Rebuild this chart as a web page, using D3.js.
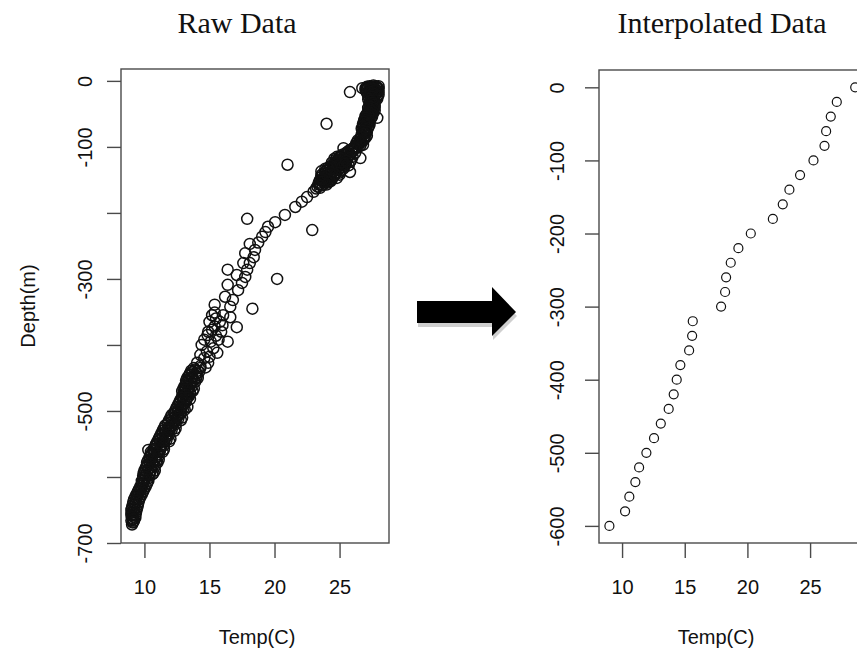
<!DOCTYPE html>
<html>
<head>
<meta charset="utf-8">
<script src="https://cdn.jsdelivr.net/npm/d3@7"></script>
<style>
  body { margin: 0; background: #fff; }
  svg { display: block; }
</style>
</head>
<body>
<div id="chart"></div>
<script>
// Raw profile (temp C, depth m)
var rawTemp = [
  28.0, 27.8, 27.6, 27.4, 27.2, 27.0, 26.75, 25.8, 28.0, 27.8,
  27.5, 27.9, 27.6, 27.3, 28.0, 27.7, 27.4, 27.9, 27.7, 27.4,
  27.6, 27.3, 27.7, 27.5, 27.2, 27.6, 27.3, 27.0, 27.9, 27.4,
  26.9, 27.2, 26.8, 27.3, 27.0, 26.7, 27.1, 26.8, 27.1, 26.9,
  26.6, 26.4, 26.7, 26.4, 26.2, 24.0, 26.3, 26.0, 25.3, 25.7,
  26.2, 25.8, 25.4, 25.0, 26.0, 24.8, 26.6, 25.6, 25.2, 24.8,
  24.4, 25.5, 25.1, 24.7, 24.3, 23.9, 25.3, 24.9, 24.5, 25.8,
  24.1, 23.7, 25.0, 24.6, 24.2, 23.8, 23.5, 24.3, 23.9, 23.5,
  23.3, 21.0, 23.0, 22.5, 22.1, 21.6, 20.8, 20.05, 19.5, 19.3,
  19.05, 18.75, 18.5, 18.4, 18.1, 17.9, 17.75, 17.5, 17.2, 16.8,
  16.6, 16.05, 18.1, 17.75, 17.6, 17.1, 16.4, 16.2, 15.4, 16.4,
  17.9, 22.9, 20.2, 18.3, 15.4, 17.1, 16.4, 15.6, 14.9, 14.85,
  14.4, 14.3, 14.05, 16.6, 16.0, 15.2, 15.7, 15.0, 14.6, 15.3,
  14.6, 15.9, 15.5,
  // deep band
  13.8, 14.3, 13.5, 14.0, 13.3, 13.7, 14.1, 13.2, 13.6, 13.0,
  13.4, 13.8, 13.1, 13.5, 12.8, 13.2, 13.5, 12.6, 13.0, 12.4,
  12.8, 13.1, 12.1, 12.6, 11.9, 12.4, 12.8, 11.6, 12.1, 11.4,
  11.9, 12.3, 11.2, 11.7, 11.0, 11.5, 11.9, 10.8, 11.3, 10.5,
  11.0, 11.4, 10.4, 10.9, 10.2, 10.6, 11.0, 10.1, 10.5, 9.95,
  10.4, 10.7, 9.9, 10.3, 9.8, 10.2, 9.6, 10.0, 9.4, 9.8,
  9.2, 9.6, 9.1, 9.5, 9.0, 9.4, 9.0, 9.3, 9.0, 9.2,
  9.05, 10.3,
  // more of the upper band
  27.9, 27.5, 27.1, 27.7, 27.3, 27.1, 27.8, 27.5, 27.2, 27.9,
  27.5, 27.2, 27.6, 27.3, 27.5, 27.2, 27.4, 27.7, 27.4, 27.1,
  27.5, 27.2, 27.0, 27.0, 27.3, 26.9, 27.2, 26.9, 27.0, 26.7,
  26.9, 26.6, 26.5, 26.8, 26.3, 26.0, 25.5, 25.2, 25.7, 25.3,
  24.9, 25.9, 25.4, 25.0, 24.6, 25.7, 24.9, 24.5, 24.0, 25.1,
  24.7, 24.3, 23.9, 24.8, 24.4, 24.0, 23.7, 23.6, 23.4, 23.7,
  23.2,
  // middle
  15.2, 15.8, 15.4, 14.9, 15.5, 15.1, 14.8, 15.0, 14.3, 14.7,
  // more of the deep band
  13.6, 14.1, 13.4, 13.9, 13.2, 13.8, 13.1, 13.5, 12.9, 13.3,
  13.7, 12.9, 13.4, 12.7, 13.2, 12.5, 12.9, 13.3, 12.3, 12.8,
  12.0, 12.5, 12.9, 11.8, 12.3, 11.5, 12.0, 12.4, 11.3, 11.8,
  11.1, 11.6, 12.0, 10.9, 11.4, 10.7, 11.2, 11.5, 10.5, 11.0,
  10.3, 10.8, 11.1, 10.2, 10.7, 10.0, 10.5, 10.8, 9.9, 10.4,
  9.8, 10.3, 9.7, 10.1, 9.5, 9.9, 9.3, 9.7, 9.15, 9.55,
  9.05, 9.45, 9.0, 9.35, 9.05, 9.3, 9.1,
  // surface layer, further readings
  27.6, 27.3, 27.1, 27.9, 27.6, 27.3, 27.0, 27.7, 28.0, 27.4,
  27.7, 27.9, 27.5, 27.3, 27.6, 27.4, 27.5, 27.7, 27.4, 27.6,
  27.3, 27.5, 27.3, 27.5, 27.2, 27.0, 27.3, 27.1, 26.9, 27.1,
  26.8, 27.0, 27.1, 26.8, 26.9, 27.0, 26.7, 26.8, 26.5, 26.6,
  26.4, 26.1,
  25.9, 25.5, 25.1, 25.6, 25.2, 24.7, 25.8, 25.3, 24.8, 24.5,
  25.4, 24.2, 24.7, 25.0, 24.4, 23.9, 24.5, 24.1, 23.8, 24.1,
  23.6, 23.5,
  25.6, 25.0, 24.6, 25.4, 24.9, 24.3, 23.9, 24.4, 25.2, 24.6,
  23.6, 24.2, 23.7, 24.0, 23.4, 25.5, 24.1, 23.6,
  // deep layer, further readings
  13.9, 13.7, 14.2, 13.5, 13.6, 14.0, 13.4, 13.3, 13.9, 13.4,
  13.2, 13.6, 13.1, 13.0, 13.5, 13.2, 12.9, 13.3, 13.0, 12.7,
  13.1, 12.8, 12.5, 13.0, 12.6, 12.3, 12.8, 12.4, 12.1, 12.6,
  12.1, 11.8, 12.4, 11.9, 11.6, 12.1, 11.6, 11.4, 11.9, 11.4,
  11.2, 11.7, 11.2, 10.9, 11.5, 10.9, 10.7, 11.2, 10.7, 10.5,
  11.1, 10.6, 10.4, 10.9, 10.4, 10.2, 10.8, 10.3, 10.2, 10.1,
  10.6, 10.1, 10.0, 9.95, 9.9, 9.8, 9.7, 9.6, 9.5, 9.4,
  9.35, 9.3, 9.25, 9.2, 9.15, 9.15, 9.15, 9.1, 9.15
];
var rawDepth = [
  -8, -8, -9, -9, -10, -11, -11, -17, -12, -13,
  -14, -16, -18, -20, -21, -23, -25, -27, -30, -32,
  -35, -38, -40, -43, -46, -48, -51, -53, -56, -57,
  -59, -62, -65, -67, -70, -72, -75, -78, -83, -85,
  -87, -90, -93, -96, -99, -65, -100, -103, -102, -106,
  -109, -111, -113, -115, -115, -115, -117, -118, -120, -122,
  -124, -125, -127, -129, -131, -133, -133, -135, -137, -138,
  -139, -141, -142, -144, -146, -148, -150, -152, -154, -156,
  -160, -127, -168, -176, -183, -191, -203, -214, -221, -229,
  -236, -245, -256, -267, -276, -286, -297, -306, -317, -332,
  -342, -355, -247, -261, -276, -294, -309, -327, -339, -286,
  -209, -226, -300, -345, -351, -373, -395, -412, -427, -385,
  -400, -415, -427, -358, -370, -377, -392, -365, -392, -405,
  -420, -380, -360,
  // deep band
  -435, -435, -443, -443, -450, -450, -450, -458, -458, -466,
  -466, -466, -474, -474, -482, -482, -482, -490, -490, -498,
  -498, -498, -506, -506, -514, -514, -514, -522, -522, -530,
  -530, -530, -538, -538, -546, -546, -546, -554, -554, -562,
  -562, -562, -570, -570, -578, -578, -578, -586, -586, -594,
  -594, -594, -602, -602, -610, -610, -618, -618, -626, -626,
  -634, -634, -642, -642, -650, -650, -658, -658, -666, -666,
  -672, -559,
  // more of the upper band
  -10, -11, -12, -15, -16, -18, -19, -21, -23, -24,
  -26, -28, -31, -34, -37, -41, -44, -45, -49, -50,
  -54, -55, -58, -61, -63, -68, -71, -74, -79, -81,
  -88, -91, -95, -97, -94, -107, -109, -112, -114, -117,
  -119, -120, -122, -124, -126, -128, -130, -133, -136, -136,
  -140, -142, -144, -147, -149, -151, -153, -146, -154, -158,
  -163,
  // middle
  -355, -365, -372, -380, -386, -395, -410, -418, -432, -434,
  // more of the deep band
  -439, -439, -447, -447, -454, -454, -462, -462, -470, -470,
  -470, -478, -478, -486, -486, -494, -494, -494, -502, -502,
  -510, -510, -510, -518, -518, -526, -526, -526, -534, -534,
  -542, -542, -542, -550, -550, -558, -558, -558, -566, -566,
  -574, -574, -574, -582, -582, -590, -590, -590, -598, -598,
  -606, -606, -614, -614, -622, -622, -630, -630, -638, -638,
  -646, -646, -654, -654, -662, -662, -669,
  // surface layer, further readings
  -7, -8, -9, -11, -12, -13, -14, -14, -17, -17,
  -20, -22, -24, -27, -28, -30, -33, -36, -39, -41,
  -42, -46, -48, -51, -52, -56, -60, -64, -62, -67,
  -69, -73, -77, -76, -80, -86, -84, -90, -92, -98,
  -101, -101,
  -104, -111, -114, -116, -118, -120, -123, -123, -125, -128,
  -129, -134, -134, -139, -140, -140, -145, -148, -152, -154,
  -158, -162,
  -110, -117, -118, -126, -128, -129, -137, -138, -131, -141,
  -143, -150, -149, -157, -157, -121, -132, -137,
  // deep layer, further readings
  -437, -441, -441, -445, -449, -449, -452, -456, -456, -460,
  -464, -464, -468, -472, -472, -476, -480, -480, -484, -488,
  -488, -492, -496, -496, -500, -504, -504, -508, -512, -512,
  -516, -520, -520, -524, -528, -528, -532, -536, -536, -540,
  -544, -544, -548, -552, -552, -556, -560, -560, -564, -568,
  -568, -572, -576, -576, -580, -584, -584, -588, -592, -596,
  -596, -600, -604, -608, -612, -616, -620, -624, -628, -632,
  -636, -640, -644, -648, -652, -656, -660, -664, -668
];

// Interpolated profile (right panel)
var interpDepth = [0, -20, -40, -60, -80, -100, -120, -140, -160, -180,
  -200, -220, -240, -260, -280, -300, -320, -340, -360, -380,
  -400, -420, -440, -460, -480, -500, -520, -540, -560, -580, -600];
var interpTemp = [28.6, 27.13, 26.65, 26.28, 26.15, 25.27, 24.2, 23.35, 22.82, 22.03,
  20.27, 19.28, 18.67, 18.3, 18.22, 17.9, 15.64, 15.59, 15.35, 14.65,
  14.36, 14.12, 13.72, 13.09, 12.55, 11.94, 11.36, 11.06, 10.58, 10.24, 8.99];

// Tick values
var xTicks = [10, 15, 20, 25];
var leftYTicks = [0, -100, -200, -300, -400, -500, -600, -700];
var leftYLabels = [0, -100, -300, -500, -700];
var rightYTicks = [0, -100, -200, -300, -400, -500, -600];

var titles = ["Raw Data", "Interpolated Data"];
var xTitle = "Temp(C)";
var yTitle = "Depth(m)";

var width = 857, height = 657;

var svg = d3.select("#chart").append("svg")
    .attr("width", width)
    .attr("height", height);

var sans = "'Liberation Sans', Arial, Helvetica, sans-serif";
var serif = "'Liberation Serif', 'Times New Roman', serif";
var boxColor = "#4a4a4a";

// Panels: plot box in pixels + data domains
var panels = [
  {
    left: 121, right: 389, top: 69, bottom: 543,
    xDomain: [8.2, 28.8], yDomain: [-700, 18],
    temps: rawTemp, depths: rawDepth, r: 5.5, sw: 1.5,
    yTicks: leftYTicks, yLabels: leftYLabels,
    yLabelOff: -36, titleX: 237, xTitleX: 257, yTitleX: 28
  },
  {
    left: 599, right: 869, top: 70, bottom: 543,
    xDomain: [8.16, 29.7], yDomain: [-623.4, 23.7],
    temps: interpTemp, depths: interpDepth, r: 4.5, sw: 1.2,
    yTicks: rightYTicks, yLabels: rightYTicks,
    yLabelOff: -42, titleX: 722, xTitleX: 716, yTitleX: null
  }
];

panels.forEach(function(p, i) {
  var x = d3.scaleLinear().domain(p.xDomain).range([p.left, p.right]);
  var y = d3.scaleLinear().domain(p.yDomain).range([p.bottom, p.top]);

  var g = svg.append("g").attr("class", "panel" + i);

  // points
  var pts = d3.range(Math.min(p.temps.length, p.depths.length));
  g.append("g").selectAll("circle")
    .data(pts)
    .enter().append("circle")
    .attr("cx", function(k){ return x(p.temps[k]); })
    .attr("cy", function(k){ return y(p.depths[k]); })
    .attr("r", p.r)
    .attr("fill", "none")
    .attr("stroke", "#111")
    .attr("stroke-width", p.sw);

  // box
  g.append("rect")
    .attr("x", p.left).attr("y", p.top)
    .attr("width", p.right - p.left).attr("height", p.bottom - p.top)
    .attr("fill", "none")
    .attr("stroke", boxColor)
    .attr("stroke-width", 1.4);

  // x axis
  var xa = g.append("g")
    .attr("transform", "translate(0," + p.bottom + ")")
    .call(d3.axisBottom(x).tickValues(xTicks).tickSize(15).tickSizeOuter(0)
      .tickFormat(function(d){ return String(d); }));
  xa.select(".domain").remove();
  xa.selectAll("line").attr("stroke", boxColor).attr("stroke-width", 1.4);
  xa.selectAll("text")
    .attr("y", 44).attr("dy", "0.35em")
    .attr("fill", "#111")
    .style("font-family", sans).style("font-size", "20px");

  // y axis
  var ya = g.append("g")
    .attr("transform", "translate(" + p.left + ",0)")
    .call(d3.axisLeft(y).tickValues(p.yTicks).tickSize(14).tickSizeOuter(0)
      .tickFormat(function(d){ return p.yLabels.indexOf(d) >= 0 ? String(d) : ""; }));
  ya.select(".domain").remove();
  ya.selectAll("line").attr("stroke", boxColor).attr("stroke-width", 1.4);
  ya.selectAll("text")
    .attr("x", 0).attr("y", p.yLabelOff).attr("dy", "0.35em")
    .attr("transform", "rotate(-90)")
    .attr("text-anchor", "middle")
    .attr("fill", "#111")
    .style("font-family", sans).style("font-size", "20px");

  // titles
  g.append("text")
    .attr("x", p.titleX).attr("y", 33)
    .attr("text-anchor", "middle")
    .attr("fill", "#111")
    .style("font-family", serif).style("font-size", "30px")
    .text(titles[i]);

  g.append("text")
    .attr("x", p.xTitleX).attr("y", 637).attr("dy", "0.35em")
    .attr("text-anchor", "middle")
    .attr("fill", "#111")
    .style("font-family", sans).style("font-size", "20px")
    .text(xTitle);

  if (p.yTitleX !== null) {
    g.append("text")
      .attr("transform", "translate(" + p.yTitleX + "," + ((p.top + p.bottom) / 2) + ") rotate(-90)")
      .attr("dy", "0.35em")
      .attr("text-anchor", "middle")
      .attr("fill", "#111")
      .style("font-family", sans).style("font-size", "20px")
      .text(yTitle);
  }
});

// arrow between panels
var arrowPath = "M417,301 L492,301 L492,287 L516,312 L492,336 L492,323 L417,323 Z";
svg.append("path")
  .attr("d", arrowPath)
  .attr("transform", "translate(1,4)")
  .attr("fill", "#cfcfcf");
svg.append("path")
  .attr("d", arrowPath)
  .attr("fill", "#000");
</script>
</body>
</html>
